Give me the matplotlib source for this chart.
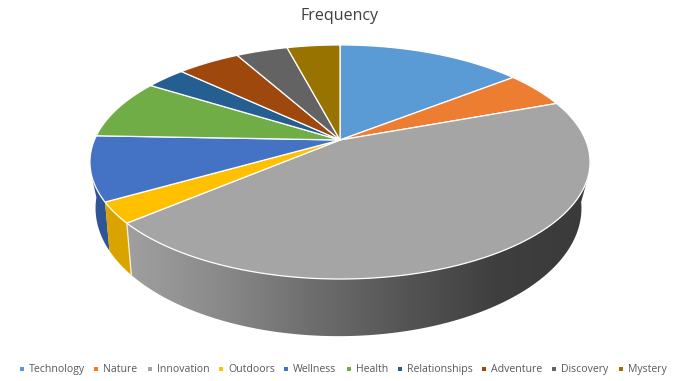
import numpy as np
import matplotlib
matplotlib.use("Agg")
import matplotlib.pyplot as plt
from matplotlib.patches import Polygon, Rectangle

plt.rcParams["font.family"] = ["Open Sans", "DejaVu Sans"]

categories = ["Technology", "Nature", "Innovation", "Outdoors", "Wellness",
              "Health", "Relationships", "Adventure", "Discovery", "Mystery"]
frequency = [14.4, 5.0, 44.4, 2.9, 8.9, 8.3, 3.1, 4.9, 4.0, 4.1]
colors = ["#5b9bd5", "#ed7d31", "#a5a5a5", "#ffc000", "#4472c4",
          "#70ad47", "#255e91", "#9e480e", "#636363", "#997300"]


def project(t, cx=340.0, cy=140.0, rx=245.6, ry=112.9, k=0.188):
    # t is clockwise from 12 o'clock, in radians; perspective on a tilted disc
    x, y = np.sin(t), np.cos(t)
    w = 1 + k * y
    return cx + rx * x / w, cy - ry * y / w


def project_low(t):
    return project(t, cx=338.5, cy=180.0, rx=237.0, ry=121.8, k=0.22)


fig = plt.figure(figsize=(6.9, 3.81), dpi=100)
ax = fig.add_axes([0, 0, 1, 1])
ax.set_xlim(0, 690)
ax.set_ylim(381, 0)
ax.axis("off")

edges = np.cumsum([0] + frequency) / sum(frequency) * 2 * np.pi
low3 = edges[3] - 0.025
low4 = edges[4] - 0.02


# side walls first, back to front
def wall(t0, t1, low0, low1):
    xa, ya = project(np.linspace(t0, t1, 120))
    xb, yb = project_low(np.linspace(low1, low0, 120))
    return np.column_stack([np.r_[xa, xb], np.r_[ya, yb]])


ax.add_patch(Polygon(wall(edges[4], np.radians(254), low4, np.radians(262)),
                     fc="#2f5597", ec="none", zorder=1))
ax.add_patch(Polygon(wall(edges[3], edges[4], low3, low4),
                     fc="#d9a400", ec="none", zorder=2))

gray = Polygon(wall(np.radians(107), edges[3], np.radians(100), low3),
               fc="none", ec="none", zorder=3)
ax.add_patch(gray)
grad = np.linspace(0, 1, 256).reshape(1, -1)
cmap = matplotlib.colors.LinearSegmentedColormap.from_list(
    "wall", ["#a0a0a0", "#8a8a8a", "#6e6e6e", "#555555", "#3f3f3f", "#3a3a3a"])
im = ax.imshow(grad, extent=(125, 590, 381, 0), cmap=cmap, aspect="auto", zorder=3)
im.set_clip_path(gray)
ax.set_xlim(0, 690)
ax.set_ylim(381, 0)

# thin pale seam between the gold and gray walls
seam_x, seam_y = project(edges[3])
seam_xb, seam_yb = project_low(low3)
ax.plot([seam_x, seam_xb], [seam_y, seam_yb], color="#fff2cc", lw=0.9, zorder=3.5)

# top face
for i, c in enumerate(colors):
    t = np.linspace(edges[i], edges[i + 1], 80)
    x, y = project(t)
    pts = np.column_stack([np.r_[340, x], np.r_[140, y]])
    ax.add_patch(Polygon(pts, fc=c, ec="white", lw=0.9, joinstyle="round", zorder=4))

ax.text(340, 15.5, "Frequency", ha="center", va="center", fontsize=11.5, color="#404040")

# legend
lx = [21.5, 96, 150, 221, 286, 349, 400, 484, 554, 621]
for name, c, x0 in zip(categories, colors, lx):
    ax.add_patch(Rectangle((x0 - 2, 367), 4, 4, fc=c, ec="none"))
    ax.text(x0 + 7, 369.5, name, ha="left", va="center", fontsize=7.6, color="#595959")

fig.savefig("out.png", dpi=100)
